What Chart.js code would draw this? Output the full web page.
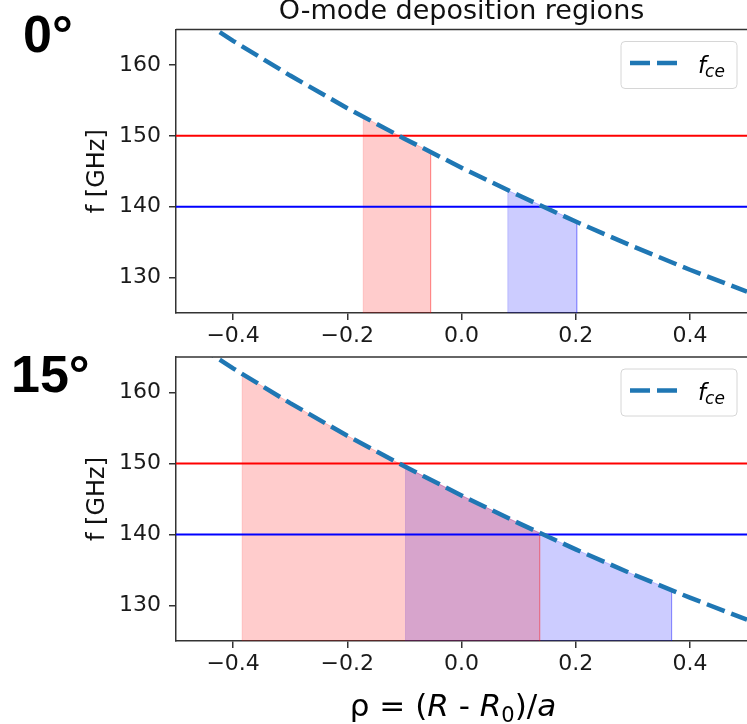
<!DOCTYPE html>
<html>
<head>
<meta charset="utf-8">
<script src="https://cdn.jsdelivr.net/npm/chart.js@4.4.1/dist/chart.umd.min.js"></script>
<style>
  html, body { margin: 0; padding: 0; background: #fff; }
  #wrap { position: relative; width: 747px; height: 724px; overflow: hidden; }
  canvas { position: absolute; left: 0; }
  #c0 { top: 0; }
  #c15 { top: 345px; }
</style>
</head>
<body>
<div id="wrap">
  <canvas id="c0" width="747" height="345"></canvas>
  <canvas id="c15" width="747" height="379"></canvas>
</div>
<script>
// f_ce vs rho (same curve in both panels)
const rho = [-0.5, -0.4, -0.3, -0.2, -0.1, 0.0, 0.1, 0.2, 0.3, 0.4, 0.5];
const fce = [168.6, 163.4, 158.5, 153.9, 149.6, 145.5, 141.6, 137.9, 134.4, 131.1, 128.0];

const xTicks = [-0.4, -0.2, 0.0, 0.2, 0.4];
const yTicks = [130, 140, 150, 160];
const xRange = [-0.5, 0.5];
const yRange = [125, 165];

const redFreq = 150;
const blueFreq = 140;

// deposition regions at 0 deg
const redRho0 = [-0.172, -0.1, -0.054];
const redF0 = [152.7, 149.6, 147.7];
const blueRho0 = [0.081, 0.1, 0.202];
const blueF0 = [142.3, 141.6, 137.9];

// deposition regions at 15 deg
const redRho15 = [-0.384, -0.3, -0.2, -0.1, 0.0, 0.1, 0.137];
const redF15 = [162.6, 158.5, 153.9, 149.6, 145.5, 141.6, 140.2];
const blueRho15 = [-0.098, 0.0, 0.1, 0.2, 0.3, 0.368];
const blueF15 = [149.5, 145.5, 141.6, 137.9, 134.4, 132.2];

const FONT = "'DejaVu Sans', sans-serif";

function region(xs, ys) {
  const pts = xs.map((x, i) => ({x: x, y: ys[i]}));
  return [{x: xs[0], y: yRange[0]}].concat(pts, [{x: xs[xs.length - 1], y: yRange[0]}]);
}

function fmtX(v) {
  return (v < -1e-9 ? '\u2212' : '') + Math.abs(v).toFixed(1);
}

const decor = {
  id: 'decor',
  afterDraw(chart, args, o) {
    const ctx = chart.ctx;
    const ca = chart.chartArea;
    ctx.save();

    // top spine
    ctx.strokeStyle = '#333';
    ctx.lineWidth = 1.5;
    ctx.beginPath();
    ctx.moveTo(ca.left, ca.top);
    ctx.lineTo(ca.right, ca.top);
    ctx.stroke();

    // legend
    const bw = 116, bh = 47;
    const bx = ca.right - 10 - bw, by = ca.top + 12;
    const r = 4;
    ctx.beginPath();
    ctx.moveTo(bx + r, by);
    ctx.lineTo(bx + bw - r, by);
    ctx.arcTo(bx + bw, by, bx + bw, by + r, r);
    ctx.lineTo(bx + bw, by + bh - r);
    ctx.arcTo(bx + bw, by + bh, bx + bw - r, by + bh, r);
    ctx.lineTo(bx + r, by + bh);
    ctx.arcTo(bx, by + bh, bx, by + bh - r, r);
    ctx.lineTo(bx, by + r);
    ctx.arcTo(bx, by, bx + r, by, r);
    ctx.closePath();
    ctx.fillStyle = 'rgba(255,255,255,0.8)';
    ctx.fill();
    ctx.strokeStyle = '#d6d6d6';
    ctx.lineWidth = 1;
    ctx.stroke();

    ctx.strokeStyle = '#1f77b4';
    ctx.lineWidth = 4.5;
    ctx.setLineDash([20, 7]);
    ctx.beginPath();
    ctx.moveTo(bx + 9, by + 21.5);
    ctx.lineTo(bx + 56, by + 21.5);
    ctx.stroke();
    ctx.setLineDash([]);

    ctx.fillStyle = '#000';
    ctx.textAlign = 'left';
    ctx.textBaseline = 'alphabetic';
    ctx.font = 'italic 23px ' + FONT;
    ctx.fillText('f', bx + 77, by + 31);
    const fw = ctx.measureText('f').width;
    ctx.font = 'italic 17px ' + FONT;
    ctx.fillText('ce', bx + 77 + fw - 1, by + 35);

    // y title
    ctx.save();
    ctx.translate(104, (ca.top + ca.bottom) / 2);
    ctx.rotate(-Math.PI / 2);
    ctx.textAlign = 'center';
    ctx.font = '24px ' + FONT;
    ctx.fillStyle = '#111';
    ctx.fillText('f [GHz]', 0, 0);
    ctx.restore();

    // panel label
    ctx.font = "bold 52px 'Liberation Sans', Arial, sans-serif";
    ctx.fillStyle = '#000';
    ctx.textAlign = 'left';
    ctx.fillText(o.panel, o.panelX, o.panelY);

    if (o.title) {
      ctx.font = '27px ' + FONT;
      ctx.fillStyle = '#111';
      ctx.textAlign = 'center';
      ctx.fillText(o.title, (ca.left + ca.right) / 2, 19);
    }

    if (o.xTitle) {
      const pieces = [
        ['\u03c1 = (', 'normal', 31, 0],
        ['R', 'italic', 31, 0],
        [' - ', 'normal', 31, 0],
        ['R', 'italic', 31, 0],
        ['0', 'normal', 21, 6],
        [')/', 'normal', 31, 0],
        ['a', 'italic', 31, 0]
      ];
      let total = 0;
      pieces.forEach(p => {
        ctx.font = p[1] + ' ' + p[2] + 'px ' + FONT;
        p.push(ctx.measureText(p[0]).width);
        total += p[4];
      });
      let x = o.xTitleX - total / 2;
      ctx.textAlign = 'left';
      ctx.fillStyle = '#000';
      pieces.forEach(p => {
        ctx.font = p[1] + ' ' + p[2] + 'px ' + FONT;
        ctx.fillText(p[0], x, o.xTitleY + p[3]);
        x += p[4];
      });
    }
    ctx.restore();
  }
};

function makeChart(id, cfg) {
  return new Chart(document.getElementById(id), {
    type: 'line',
    data: {
      datasets: [
        {
          label: 'fce',
          data: rho.map((x, i) => ({x: x, y: fce[i]})),
          borderColor: '#1f77b4',
          borderWidth: 4.5,
          borderDash: [19, 7],
          pointRadius: 0,
          fill: false,
          order: 0
        },
        {
          data: xRange.map(x => ({x: x, y: redFreq})),
          borderColor: '#ff0000',
          borderWidth: 2,
          pointRadius: 0,
          fill: false,
          order: 1
        },
        {
          data: xRange.map(x => ({x: x, y: blueFreq})),
          borderColor: '#0000ff',
          borderWidth: 2,
          pointRadius: 0,
          fill: false,
          order: 1
        },
        {
          data: region(cfg.redRho, cfg.redF),
          backgroundColor: 'rgba(255,0,0,0.2)',
          borderColor: 'rgba(255,0,0,0.2)',
          borderWidth: 1,
          pointRadius: 0,
          fill: 'start',
          order: 2
        },
        {
          data: region(cfg.blueRho, cfg.blueF),
          backgroundColor: 'rgba(0,0,255,0.2)',
          borderColor: 'rgba(0,0,255,0.2)',
          borderWidth: 1,
          pointRadius: 0,
          fill: 'start',
          order: 3
        }
      ]
    },
    options: {
      responsive: false,
      animation: false,
      devicePixelRatio: 1,
      layout: {padding: {top: cfg.padTop, left: 0, right: 0, bottom: 0}},
      scales: {
        x: {
          type: 'linear',
          min: xRange[0],
          max: xRange[1],
          afterBuildTicks: a => { a.ticks = xTicks.map(v => ({value: v})); },
          afterFit: s => { s.height = cfg.xH; s.paddingLeft = 0; s.paddingRight = 0; },
          ticks: {
            callback: v => fmtX(v),
            font: {family: FONT, size: 22},
            color: '#1a1a1a',
            padding: 3,
            maxRotation: 0,
            autoSkip: false
          },
          grid: {drawOnChartArea: false, drawTicks: true, tickLength: 7, color: '#333', lineWidth: 1.5},
          border: {color: '#333', width: 1.5}
        },
        y: {
          type: 'linear',
          min: yRange[0],
          max: yRange[1],
          afterBuildTicks: a => { a.ticks = yTicks.map(v => ({value: v})); },
          afterFit: s => { s.width = 176; s.paddingTop = 0; s.paddingBottom = 0; },
          ticks: {
            callback: v => String(v),
            font: {family: FONT, size: 22},
            color: '#1a1a1a',
            padding: 8
          },
          grid: {drawOnChartArea: false, drawTicks: true, tickLength: 7, color: '#333', lineWidth: 1.5},
          border: {color: '#333', width: 1.5}
        }
      },
      plugins: {
        legend: {display: false},
        tooltip: {enabled: false},
        decor: cfg.decor
      }
    },
    plugins: [decor]
  });
}

makeChart('c0', {
  redRho: redRho0, redF: redF0, blueRho: blueRho0, blueF: blueF0,
  padTop: 29.5, xH: 32,
  decor: {panel: '0\u00b0', panelX: 23, panelY: 52, title: 'O-mode deposition regions'}
});

makeChart('c15', {
  redRho: redRho15, redF: redF15, blueRho: blueRho15, blueF: blueF15,
  padTop: 12, xH: 83,
  decor: {panel: '15\u00b0', panelX: 11, panelY: 47, xTitle: true, xTitleX: 453, xTitleY: 371}
});
</script>
</body>
</html>
